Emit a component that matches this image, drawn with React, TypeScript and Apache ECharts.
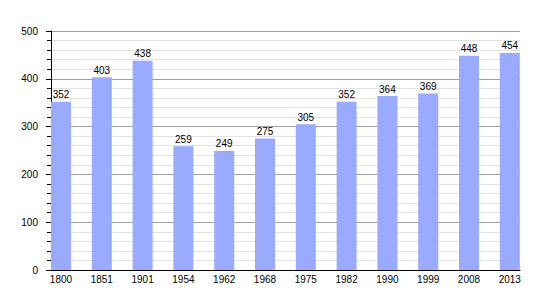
import React, { useEffect, useRef } from "react";
import * as echarts from "echarts";

const years = ["1800", "1851", "1901", "1954", "1962", "1968", "1975", "1982", "1990", "1999", "2008", "2013"];
const population = [352, 403, 438, 259, 249, 275, 305, 352, 364, 369, 448, 454];
const yMin = 0;
const yMax = 500;
const yInterval = 100;

export default function App() {
  const ref = useRef<HTMLDivElement>(null);
  useEffect(() => {
    const chart = echarts.init(ref.current!, null, { renderer: "svg" });
    const font = "'Liberation Sans', Arial, sans-serif";
    chart.setOption({
      animation: false,
      backgroundColor: "#ffffff",
      grid: { left: 51, right: 30, top: 31, bottom: 30 },
      xAxis: {
        type: "value",
        min: -0.245,
        max: 11.25,
        axisLine: { show: true, onZero: false, lineStyle: { color: "#000", width: 1 } },
        axisTick: { show: false },
        splitLine: { show: false },
        axisLabel: {
          customValues: years.map((_, i) => i),
          formatter: (v: number) => years[Math.round(v)] ?? "",
          color: "#000",
          fontSize: 10,
          fontFamily: font,
          margin: 4,
        },
      },
      yAxis: {
        type: "value",
        min: yMin,
        max: yMax,
        interval: yInterval,
        axisLine: { show: true, onZero: false, lineStyle: { color: "#000", width: 1 } },
        axisTick: { show: true, length: 5, lineStyle: { color: "#000" } },
        minorTick: { show: true, splitNumber: 5, length: 4, lineStyle: { color: "#000" } },
        splitLine: { show: true, lineStyle: { color: "#a0a0a0", width: 1 } },
        minorSplitLine: { show: true, lineStyle: { color: "#e2e2e2", width: 1 } },
        axisLabel: { color: "#000", fontSize: 10, fontFamily: font, margin: 13 },
      },
      series: [
        {
          type: "bar",
          data: population.map((v, i) => [i, v]),
          barWidth: 20,
          itemStyle: { color: "#99aaff" },
          label: {
            show: true,
            position: "top",
            distance: 2,
            color: "#000",
            fontSize: 10,
            fontFamily: font,
            formatter: (p: any) => String(p.value[1]),
          },
        },
      ],
    });
    return () => chart.dispose();
  }, []);
  return (
    <div
      ref={ref}
      style={{ position: "fixed", left: 0, top: 0, width: 550, height: 300 }}
    />
  );
}
